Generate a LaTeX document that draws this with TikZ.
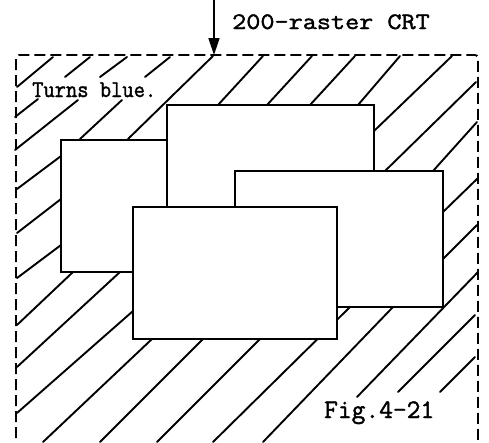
\documentclass[tikz,border=0pt]{standalone}
\usepackage{fontspec}
\usepackage{graphicx}
\usetikzlibrary{arrows.meta}
\newfontfamily\tw{Latin Modern Mono}[FakeBold=1.6]
\begin{document}
\begin{tikzpicture}[x=1pt,y=-1pt,
  hatch/.style={line width=1.9pt, line cap=round},
  card/.style={draw, line width=2.1pt, fill=white, inner sep=0pt, outer sep=0pt},
  framestyle/.style={line width=1.9pt, dash pattern=on 11pt off 5pt},
  lbl/.style={inner sep=0pt, anchor=base west, font=\tw}]
\useasboundingbox (0,0) rectangle (489,442);
\clip (0,0) rectangle (489,442);
\fill[white] (0,0) rectangle (489,442);

% hatching
\foreach \xa/\ya/\xb/\yb in {
  17/87/53/57, 65/77/90/57, 15/117/38/99, 100/77/127/57, 15/150/78/100,
  145/77/170/57, 80/139/122/100, 128/139/213/56,
  218/105/263/56, 267/105/312/56, 310/105/355/56, 358/105/400/56,
  374/131/452/56, 385/171/476/82, 433/171/477/122,
  443/212/478/178, 443/259/477/225, 357/397/478/272,
  398/392/475/315, 440/392/475/357,
  263/442/393/307, 213/442/350/307, 157/442/260/339, 100/442/203/339, 43/442/152/339,
  17/413/133/311, 17/367/120/272, 17/325/73/272, 17/278/61/245, 17/233/61/199, 17/189/61/156}
  \draw[hatch] (\xa,\ya) -- (\xb,\yb);

% dashed screen frame
\draw[framestyle, rounded corners=3pt] (16,470) -- (16,55) -- (478,55) -- (478,470);

% overlapping windows, back to front
\node[card, minimum width=109pt, minimum height=132pt] (winB) at (115.5,206) {};
\node[card, minimum width=207pt, minimum height=110pt] (winA) at (270.5,160) {};
\node[card, minimum width=208pt, minimum height=136pt] (winC) at (339,239) {};
\node[card, minimum width=204pt, minimum height=132pt] (winD) at (235,273) {};

% arrow
\coordinate (arrowtop) at (214,-2);
\coordinate (arrowtip) at (214,55);
\draw[line width=1.6pt, -{Triangle[length=17pt,width=11pt]}] (arrowtop) -- (arrowtip);

% labels
\node[lbl] (crt) at (232,29) {\scalebox{1}[0.86]{\fontsize{27.4}{27.4}\selectfont 200-raster CRT}};
\node[lbl] (blue) at (32,97) {\scalebox{1}[1.1]{\fontsize{21.9}{21.9}\selectfont Turns blue.}};
\node[lbl] (fig) at (324,418) {\scalebox{1}[1.0]{\fontsize{26.7}{26.7}\selectfont Fig.4-21}};
\end{tikzpicture}
\end{document}
